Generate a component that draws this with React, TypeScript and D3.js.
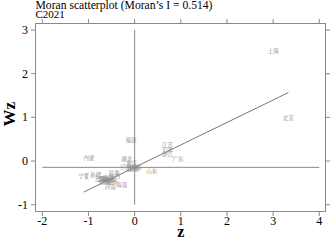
import React from "react";
import * as d3 from "d3";

const provinces = ["北京","天津","河北","山西","内蒙","辽宁","吉林","黑龙江","上海","江苏","浙江","安徽","福建","江西","山东","河南","湖北","湖南","广东","广西","海南","重庆","四川","贵州","云南","西藏","陕西","甘肃","青海","宁夏","新疆"];
const zValues = [3.33,0.70,-0.58,-0.66,-0.99,-0.20,-0.69,-0.60,3.00,0.71,0.72,-0.02,-0.08,-0.04,0.37,-0.53,-0.17,0.03,0.94,-0.53,-0.28,-0.06,-0.08,-0.49,-0.75,-0.64,-0.43,-0.45,-0.58,-1.10,-0.84];
const wzValues = [0.99,0.25,-0.43,-0.46,0.08,-0.14,-0.41,-0.41,2.52,0.37,0.15,-0.16,0.48,-0.18,-0.23,-0.59,0.04,-0.14,0.04,-0.46,-0.54,-0.05,-0.16,-0.48,-0.42,-0.48,-0.34,-0.27,-0.39,-0.34,-0.31];
const xTicks = [-2,-1,0,1,2,3,4];
const yTicks = [-1,0,1,2,3];
const moranI = 0.514;
const meanWz = -0.145;
const titleText = "Moran scatterplot (Moran’s I = 0.514)";
const subtitleText = "C2021";

const W = 332, H = 240;
const frame = { left: 35.5, right: 325.5, top: 23.5, bottom: 211.5 };
const x = d3.scaleLinear().domain([-2, 4]).range([42.3, 319.3]);
const y = d3.scaleLinear().domain([-1, 3]).range([204.7, 30]);

export default function App() {
  const zMin = d3.min(zValues) as number;
  const zMax = d3.max(zValues) as number;
  const fitLine = d3.line<number>().x(v => x(v)).y(v => y(meanWz + moranI * v));
  const gray = "#8a8a8a";
  const serif = "'Liberation Serif', 'Times New Roman', serif";
  return (
    <svg width={W} height={H} style={{ position: "absolute", left: 0, top: 0, background: "#fff" }}>
      <rect x={0} y={0} width={W} height={H} fill="#fff" />
      <text x={35.5} y={9} fontFamily={serif} fontSize={11.5} fill="#000" textLength={177} lengthAdjust="spacingAndGlyphs">{titleText}</text>
      <text x={35.5} y={17.5} fontFamily={serif} fontSize={11} fill="#000">{subtitleText}</text>
      <rect x={frame.left} y={frame.top} width={frame.right - frame.left} height={frame.bottom - frame.top} fill="none" stroke={gray} strokeWidth={1} />
      {xTicks.map(t => (
        <g key={"x" + t}>
          <line x1={x(t)} x2={x(t)} y1={frame.bottom} y2={frame.bottom + 4.5} stroke={gray} />
          <line x1={x(t)} x2={x(t)} y1={frame.top} y2={frame.top - 4.5} stroke={gray} />
          <text x={x(t)} y={225} textAnchor="middle" fontFamily={serif} fontSize={12} fill="#000">{t}</text>
        </g>
      ))}
      {yTicks.map(t => (
        <g key={"y" + t}>
          <line x1={frame.left} x2={frame.left - 4.5} y1={y(t)} y2={y(t)} stroke={gray} />
          <line x1={frame.right} x2={frame.right + 4.5} y1={y(t)} y2={y(t)} stroke={gray} />
          <text x={28} y={y(t) + 4} textAnchor="end" fontFamily={serif} fontSize={12} fill="#000">{t}</text>
        </g>
      ))}
      <text x={x(1)} y={236.5} textAnchor="middle" fontFamily={serif} fontSize={16} fontWeight="bold" fill="#000">z</text>
      <text transform={`translate(14.5,${y(1) - 3}) rotate(-90)`} textAnchor="middle" fontFamily={serif} fontSize={17} fontWeight="bold" fill="#000">Wz</text>
      <line x1={x(-2)} x2={x(4)} y1={y(meanWz)} y2={y(meanWz)} stroke={gray} strokeWidth={1} />
      <line x1={x(0)} x2={x(0)} y1={y(3)} y2={y(-1)} stroke={gray} strokeWidth={1} />
      <path d={fitLine([zMin, zMax]) || ""} stroke="#777" strokeWidth={1} fill="none" />
      {provinces.map((p, i) => (
        <text key={p} x={x(zValues[i])} y={y(wzValues[i]) + 2} textAnchor="middle" fontFamily="'Noto Serif CJK SC', 'Noto Sans CJK SC', serif" fontSize={5.5} fill="#8a8a8a">{p}</text>
      ))}
    </svg>
  );
}
